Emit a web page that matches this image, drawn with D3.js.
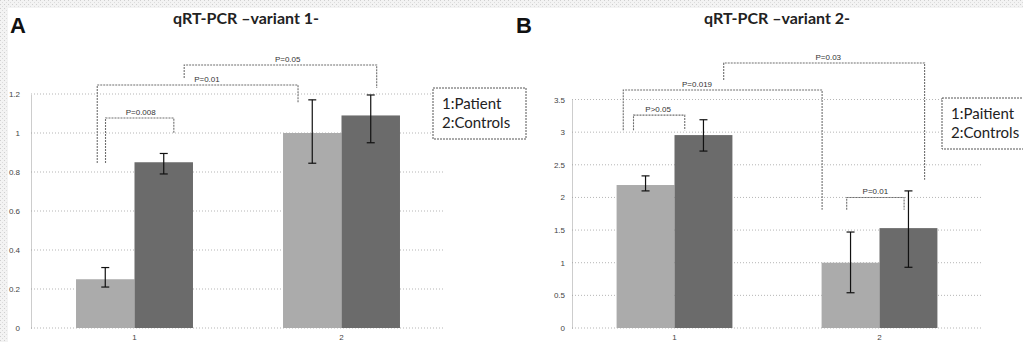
<!DOCTYPE html>
<html>
<head>
<meta charset="utf-8">
<script src="https://cdn.jsdelivr.net/npm/d3@7"></script>
<style>
  body { margin: 0; background: #fff; }
  svg { display: block; }
  .tick-lbl { font-family: "Liberation Sans", Arial, sans-serif; font-size: 8px; fill: #444; }
  .title { font-family: Lato, "Open Sans", sans-serif; font-size: 16px; font-weight: bold; fill: #222; }
  .letter { font-family: "Liberation Sans", Arial, sans-serif; font-size: 22px; font-weight: bold; fill: #111; }
  .leg { font-family: Lato, "Open Sans", sans-serif; font-size: 15px; fill: #222; }
  .plbl { font-family: "Liberation Sans", Arial, sans-serif; font-size: 8px; fill: #333; }
</style>
</head>
<body>
<svg id="fig" width="1023" height="342"></svg>
<script>
// ---- data ----
var groups = ["1", "2"];
var seriesNames = ["Patient", "Controls"];

// panel A : qRT-PCR -variant 1-
var aTicks = [0, 0.2, 0.4, 0.6, 0.8, 1, 1.2];
var aXLabels = ["1", "2"];
var aPatient = [0.25, 1.0];
var aControls = [0.85, 1.09];
var aPatientErr = [[0.21, 0.31], [0.845, 1.17]];
var aControlsErr = [[0.79, 0.895], [0.95, 1.195]];
// brackets: x in group units (0 = group 1 centre), y in data units
var aBrackets = [
  { p: "P=0.008", x1: -0.14, x2: 0.19, top: 1.077, l: 0.846, r: 1.0, lx: 0.03 },
  { p: "P=0.01", x1: -0.18, x2: 0.79, top: 1.246, l: 0.846, r: 1.154, lx: 0.35 },
  { p: "P=0.05", x1: 0.24, x2: 1.17, top: 1.349, l: 1.282, r: 1.231, lx: 0.74 }
];

// panel B : qRT-PCR -variant 2-
var bTicks = [0, 0.5, 1, 1.5, 2, 2.5, 3, 3.5];
var bXLabels = ["1", "2"];
var bPatient = [2.19, 1.0];
var bControls = [2.955, 1.53];
var bPatientErr = [[2.1, 2.33], [0.54, 1.47]];
var bControlsErr = [[2.71, 3.19], [0.93, 2.1]];
var bBrackets = [
  { p: "P>0.05", x1: -0.2, x2: 0.05, top: 3.26, l: 3.03, r: 3.03, lx: -0.08 },
  { p: "P=0.019", x1: -0.25, x2: 0.72, top: 3.645, l: 3.03, r: 1.81, lx: 0.11 },
  { p: "P=0.03", x1: 0.24, x2: 1.22, top: 4.06, l: 3.8, r: 2.27, lx: 0.75 },
  { p: "P=0.01", x1: 0.84, x2: 1.12, top: 2.0, l: 1.81, r: 1.81, lx: 0.98 }
];

var colors = ["#ababab", "#6b6b6b"];

var svg = d3.select("#fig");

// scanned paper speckle along the top and left edges
var defs = svg.append("defs");
var pat = defs.append("pattern").attr("id", "speck").attr("width", 4).attr("height", 4)
  .attr("patternUnits", "userSpaceOnUse");
pat.append("rect").attr("width", 4).attr("height", 4).attr("fill", "#f3f3f3");
pat.append("rect").attr("x", 0).attr("y", 0).attr("width", 1).attr("height", 1).attr("fill", "#cfcfcf");
pat.append("rect").attr("x", 2).attr("y", 2).attr("width", 1).attr("height", 1).attr("fill", "#dcdcdc");
svg.append("rect").attr("x", 0).attr("y", 0).attr("width", 1023).attr("height", 8).attr("fill", "url(#speck)");
svg.append("rect").attr("x", 0).attr("y", 0).attr("width", 8).attr("height", 342).attr("fill", "url(#speck)");

function drawPanel(o) {
  var g = svg.append("g");

  var y = d3.scaleLinear().domain([0, o.ymax]).range([328, o.ytop]);
  var x0 = d3.scaleBand().domain(groups).range([o.left, o.right]).paddingInner(0.435).paddingOuter(0.2175);
  var x1 = d3.scaleBand().domain(seriesNames).range([0, x0.bandwidth()]);
  var c0 = x0("1") + x0.bandwidth() / 2;
  var step = x0.step();
  var gx = d3.scaleLinear().domain([0, 1]).range([c0, c0 + step]);

  // grid
  g.selectAll(".grid").data(o.ticks).enter().append("line")
    .attr("x1", o.left).attr("x2", o.right)
    .attr("y1", d => y(d)).attr("y2", d => y(d))
    .attr("stroke", "#b5b5b5").attr("stroke-width", 1).attr("stroke-dasharray", "1,2");

  // y axis
  var yAxis = d3.axisLeft(y).tickValues(o.ticks).tickSize(0).tickPadding(o.pad)
    .tickFormat(d => String(d));
  var ya = g.append("g").attr("transform", "translate(" + o.left + ",0)").call(yAxis);
  ya.select(".domain").attr("stroke", "#9a9a9a").attr("stroke-dasharray", "1,1");
  ya.selectAll("text").attr("class", "tick-lbl").attr("font-family", null).attr("font-size", null).attr("fill", null);

  // bars
  var rows = groups.map((k, i) => ({ k: k, v: [o.pat[i], o.con[i]], e: [o.patErr[i], o.conErr[i]] }));
  var bg = g.selectAll(".grp").data(rows).enter().append("g")
    .attr("transform", d => "translate(" + x0(d.k) + ",0)");
  bg.selectAll("rect").data(d => d.v.map((v, j) => ({ s: seriesNames[j], v: v, j: j })))
    .enter().append("rect")
    .attr("x", d => x1(d.s)).attr("width", x1.bandwidth())
    .attr("y", d => y(d.v)).attr("height", d => 328 - y(d.v))
    .attr("fill", d => colors[d.j]);

  // error bars
  var eb = bg.selectAll(".err").data(d => d.e.map((e, j) => ({ s: seriesNames[j], e: e })))
    .enter().append("g").attr("stroke", "#111").attr("stroke-width", 1.2);
  eb.append("line")
    .attr("x1", d => x1(d.s) + x1.bandwidth() / 2).attr("x2", d => x1(d.s) + x1.bandwidth() / 2)
    .attr("y1", d => y(d.e[0])).attr("y2", d => y(d.e[1]));
  eb.append("line")
    .attr("x1", d => x1(d.s) + x1.bandwidth() / 2 - 4).attr("x2", d => x1(d.s) + x1.bandwidth() / 2 + 4)
    .attr("y1", d => y(d.e[0])).attr("y2", d => y(d.e[0]));
  eb.append("line")
    .attr("x1", d => x1(d.s) + x1.bandwidth() / 2 - 4).attr("x2", d => x1(d.s) + x1.bandwidth() / 2 + 4)
    .attr("y1", d => y(d.e[1])).attr("y2", d => y(d.e[1]));

  // x labels, right at the bottom edge
  g.selectAll(".xl").data(o.xlabels).enter().append("text")
    .attr("class", "tick-lbl")
    .attr("x", (d, i) => x0(groups[i]) + x0.bandwidth() / 2)
    .attr("y", 340).attr("text-anchor", "middle").text(d => d);

  // significance brackets
  var br = g.selectAll(".br").data(o.brackets).enter().append("g");
  br.append("path")
    .attr("d", d => "M" + gx(d.x1) + "," + y(d.l) + "V" + y(d.top) + "H" + gx(d.x2) + "V" + y(d.r))
    .attr("fill", "none").attr("stroke", "#6f6f6f").attr("stroke-width", 1.1).attr("stroke-dasharray", "2,1");
  br.append("text").attr("class", "plbl")
    .attr("x", d => gx(d.lx)).attr("y", d => y(d.top) - 3)
    .attr("text-anchor", "middle").text(d => d.p);

  // title and panel letter
  svg.append("text").attr("class", "letter").attr("x", o.letterX).attr("y", 33).text(o.letter);
  svg.append("text").attr("class", "title").attr("x", o.titleX).attr("y", 24)
    .attr("text-anchor", "middle").text(o.title);

  // legend
  var lg = svg.append("g");
  lg.append("rect").attr("x", o.lx).attr("y", o.ly).attr("width", o.lw).attr("height", 51)
    .attr("fill", "#fff").attr("stroke", "#555").attr("stroke-width", 1).attr("stroke-dasharray", "2,1");
  lg.selectAll("text").data(o.legend).enter().append("text").attr("class", "leg")
    .attr("x", o.lx + 9).attr("y", (d, i) => o.ly + 21 + i * 19).text(d => d);
}

drawPanel({
  left: 31, right: 445, ytop: 94, ymax: 1.2, pad: 11,
  ticks: aTicks, xlabels: aXLabels,
  pat: aPatient, con: aControls, patErr: aPatientErr, conErr: aControlsErr,
  brackets: aBrackets,
  letter: "A", letterX: 10, title: "qRT-PCR \u2013variant 1-", titleX: 246,
  lx: 433, ly: 88, lw: 93, legend: ["1:Patient", "2:Controls"]
});

drawPanel({
  left: 572, right: 982, ytop: 99.5, ymax: 3.5, pad: 7,
  ticks: bTicks, xlabels: bXLabels,
  pat: bPatient, con: bControls, patErr: bPatientErr, conErr: bControlsErr,
  brackets: bBrackets,
  letter: "B", letterX: 516, title: "qRT-PCR \u2013variant 2-", titleX: 777,
  lx: 942, ly: 98, lw: 95, legend: ["1:Paitient", "2:Controls"]
});
</script>
</body>
</html>
